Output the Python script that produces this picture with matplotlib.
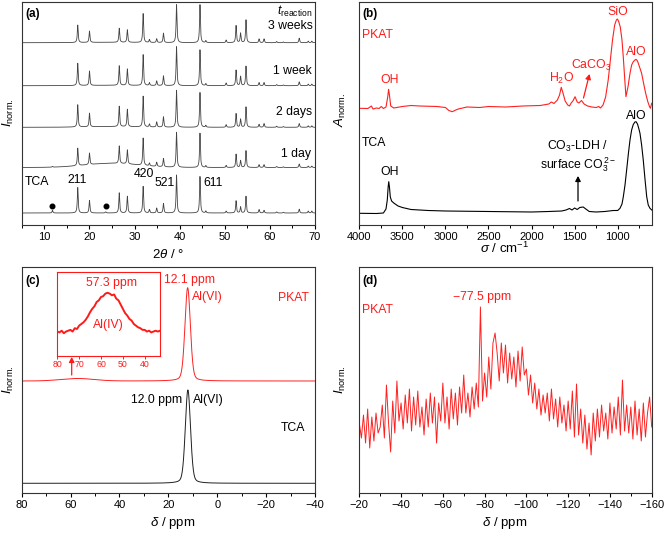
import numpy as np
import matplotlib
matplotlib.use('Agg')
import matplotlib.pyplot as plt
from matplotlib.ticker import MultipleLocator

plt.rcParams['font.family'] = ['Liberation Sans', 'DejaVu Sans']
plt.rcParams['mathtext.fontset'] = 'custom'
plt.rcParams['mathtext.rm'] = 'Liberation Sans'
plt.rcParams['mathtext.it'] = 'Liberation Sans:italic'
plt.rcParams['mathtext.bf'] = 'Liberation Sans:bold'
plt.rcParams['axes.unicode_minus'] = True

# ---------------- data (a) XRD ----------------
xrd_peaks = [11.8, 17.4, 20.0, 23.6, 26.6, 28.4, 31.9, 33.3, 34.9, 36.4, 39.3, 44.5,
             45.8, 50.3, 52.5, 53.5, 54.7, 57.6, 58.7, 61.5, 63.0, 66.5, 68.5, 69.3]
xrd_labels = ['TCA', '1 day', '2 days', '1 week', '3 weeks']
h_tca = [0.07, 0.67, 0.33, 0.03, 0.53, 0.44, 0.70, 0.09, 0.13, 0.25, 1.00, 0.96,
         0.05, 0.05, 0.32, 0.16, 0.44, 0.09, 0.07, 0.03, 0.02, 0.10, 0.05, 0.05]
h_1day = [0.02, 0.50, 0.33, 0.00, 0.50, 0.40, 0.78, 0.08, 0.12, 0.24, 1.00, 0.98,
          0.05, 0.06, 0.38, 0.20, 0.48, 0.08, 0.08, 0.03, 0.02, 0.10, 0.04, 0.04]
h_2days = [0.00, 0.60, 0.37, 0.00, 0.55, 0.47, 0.83, 0.08, 0.14, 0.28, 1.00, 0.94,
           0.05, 0.07, 0.37, 0.22, 0.55, 0.08, 0.10, 0.03, 0.02, 0.10, 0.04, 0.04]
h_1week = [0.00, 0.57, 0.37, 0.00, 0.50, 0.42, 0.79, 0.07, 0.12, 0.25, 1.00, 0.92,
           0.05, 0.07, 0.40, 0.24, 0.50, 0.08, 0.08, 0.03, 0.02, 0.10, 0.04, 0.04]
h_3weeks = [0.00, 0.46, 0.30, 0.00, 0.37, 0.33, 0.76, 0.08, 0.10, 0.25, 1.00, 1.00,
            0.05, 0.07, 0.45, 0.25, 0.60, 0.10, 0.10, 0.03, 0.02, 0.12, 0.04, 0.04]
xrd_offsets = [12.0, 57.5, 97.7, 139.3, 182.3]
xrd_scales = [38, 35, 37, 39, 38]
hump_heights = [0.0, 0.12, 0.02, 0.01, 0.01]   # amorphous hump around 25 deg
dots_2theta = [11.8, 23.6]
dots_level = 19

# ---------------- data (b) FTIR ----------------
tca_sigma = [4000, 3800, 3720, 3690, 3675, 3665, 3658, 3650, 3640, 3625, 3600, 3550, 3500,
             3400, 3200, 3000, 2500, 2000, 1800, 1650, 1600, 1560, 1530, 1500, 1470, 1440,
             1400, 1370, 1330, 1250, 1150, 1100, 1050, 1000, 973, 950, 935, 915, 896, 875,
             857, 838, 819, 800, 787, 770, 755, 741, 722, 703, 683, 663, 645, 625, 605]
tca_abs = [11.7, 11.5, 12, 16, 25, 38, 43.3, 38, 28, 24, 22, 19, 17.5,
           15.5, 14.5, 14, 13.5, 13, 13.5, 14, 15, 16.5, 15, 17, 15.5, 17.5,
           18, 16, 13.5, 13, 13.5, 14, 14.5, 14.5, 16.7, 21, 28, 40, 55, 72,
           85, 95, 100.5, 103, 103.3, 101, 96.5, 91.7, 80, 65, 46, 28.3, 20, 16.7, 15]
pkat_sigma = [4000, 3900, 3860, 3840, 3800, 3770, 3745, 3720, 3690, 3670, 3660, 3650, 3635,
              3600, 3500, 3400, 3300, 3100, 3000, 2960, 2920, 2880, 2850, 2800, 2750, 2600,
              2500, 2300, 2100, 1900, 1800, 1770, 1740, 1700, 1675, 1655, 1635, 1610, 1580,
              1560, 1540, 1520, 1495, 1470, 1450, 1420, 1390, 1350, 1300, 1250, 1220, 1200,
              1170, 1140, 1110, 1085, 1060, 1035, 1015, 1004, 990, 970, 950, 935, 918, 904,
              880, 857, 838, 819, 800, 787, 770, 741, 722, 695, 675, 650, 630, 620, 605]
pkat_abs = [116.7, 116.5, 119, 116, 117, 116.5, 118.5, 116.5, 118, 128, 135.7, 130, 119,
            117, 118.5, 119.5, 119, 118.5, 117.5, 114.5, 113.3, 115, 116, 117, 118, 117.5,
            118.5, 118, 119, 119.5, 121, 123, 121.5, 125, 130, 137.7, 132, 124, 120,
            119, 122, 124, 128.3, 123, 122, 124.5, 121, 119, 118, 117.5, 118.5, 117,
            120, 128, 145, 165, 185, 200, 205, 206, 204, 198, 185, 168, 146, 128.3,
            138.3, 151.7, 160, 163.3, 165, 165.7, 164, 156.7, 151.7, 140, 131.7, 123.3, 118.3, 116.7, 121.7]

# ---------------- data (c) 27Al NMR ----------------
nmr_al_centers = [12.1, 12.0]          # PKAT, TCA
nmr_al_heights = [93.3, 93.3]
nmr_al_baselines = [112.0, 9.7]
nmr_al_fwhm = [2.6, 2.5]
pkat_aliv_center = 57.3
pkat_aliv_height = 2.5
inset_ppm_start, inset_ppm_end = 80, 33
inset_int = [0.29, 0.28, 0.30, 0.27, 0.29, 0.30, 0.31, 0.29, 0.33, 0.32, 0.36,
             0.38, 0.40, 0.43, 0.47, 0.52, 0.56, 0.59, 0.64, 0.66, 0.70,
             0.71, 0.74, 0.75, 0.74, 0.72, 0.73, 0.68, 0.66, 0.61, 0.56,
             0.51, 0.48, 0.44, 0.42, 0.38, 0.36, 0.34, 0.33, 0.31, 0.31,
             0.29, 0.30, 0.28, 0.29, 0.30, 0.29, 0.30]

# ---------------- data (d) 29Si NMR ----------------
si_ppm_start, si_ppm_end = -20, -160
si_int = [70, 55, 78, 50, 84, 45, 76, 52, 80, 60,
          66, 88, 55, 108, 70, 41, 92, 60, 112, 72,
          90, 64, 98, 70, 104, 62, 96, 68, 102, 66,
          86, 58, 94, 66, 100, 70, 96, 50, 90, 72,
          110, 70, 96, 64, 104, 74, 100, 68, 106, 80,
          118, 80, 100, 76, 106, 84, 110, 86, 186, 92,
          120, 96, 136, 104, 150, 160, 140, 112, 150, 120,
          148, 110, 140, 114, 136, 106, 142, 112, 146, 118,
          124, 98, 118, 90, 110, 84, 104, 78, 98, 80,
          100, 72, 104, 74, 94, 66, 96, 70, 88, 62,
          92, 64, 102, 56, 109, 58, 84, 50, 78, 44,
          70, 38, 80, 52, 84, 56, 88, 62, 80, 54,
          90, 60, 86, 64, 96, 58, 113, 62, 88, 60,
          86, 54, 92, 58, 84, 52, 90, 56, 80, 96,
          66]

# ---------------- figure ----------------
W, H = 665, 533
fig = plt.figure(figsize=(W / 100, H / 100), dpi=100)


def fpos(x, y):
    return x / W, 1 - y / H


def ftext(x, y, s, ha='center', va='center', **kw):
    fx, fy = fpos(x, y)
    fig.text(fx, fy, s, ha=ha, va=va, **kw)


def farrow(x0, y0, x1, y1, color):
    fig.add_artist(matplotlib.patches.FancyArrowPatch(
        fpos(x0, y0), fpos(x1, y1), transform=fig.transFigure,
        arrowstyle='-|>,head_length=3,head_width=1.6', color=color, lw=0.9,
        mutation_scale=1, shrinkA=0, shrinkB=0))


def add_ax(l, t, r, b):
    return fig.add_axes([l / W, 1 - b / H, (r - l) / W, (b - t) / H])


def style(ax):
    for s in ax.spines.values():
        s.set_linewidth(0.8)
        s.set_color('#333333')
    ax.tick_params(axis='x', which='major', direction='out', length=3, width=0.8,
                   labelsize=8, pad=2, top=False)
    ax.tick_params(axis='x', which='minor', direction='out', length=1.8, width=0.7, top=False)
    ax.set_yticks([])


FS = 8.8
LW_XY = 9.5

# ---- (a)
axa = add_ax(21.8, 1.5, 315, 225)
tt = np.arange(5, 70.001, 0.02)
hsets = [h_tca, h_1day, h_2days, h_1week, h_3weeks]
for hs, off, sc, hump in zip(hsets, xrd_offsets, xrd_scales, hump_heights):
    y = np.zeros_like(tt)
    for c, h in zip(xrd_peaks, hs):
        y += h / (1 + ((tt - c) / 0.11) ** 2)
    y += hump * np.exp(-0.5 * ((tt - 25) / 6.0) ** 2)
    axa.plot(tt, off + sc * y, color='#444444', lw=0.6)
axa.plot(dots_2theta, [dots_level] * len(dots_2theta), 'o', color='black', ms=3.3, ls='none')
axa.set_xlim(5, 70)
axa.set_ylim(0, 223.5)
axa.xaxis.set_major_locator(MultipleLocator(10))
axa.xaxis.set_minor_locator(MultipleLocator(5))
style(axa)
axa.set_xticks([10, 20, 30, 40, 50, 60, 70])

ftext(25, 14, '(a)', ha='left', fontsize=8.5, fontweight='bold')
ftext(312, 11, r'$t_{\rm reaction}$', ha='right', fontsize=FS)
ftext(313, 26, '3 weeks', ha='right', fontsize=FS)
ftext(312, 71, '1 week', ha='right', fontsize=FS)
ftext(312, 112, '2 days', ha='right', fontsize=FS)
ftext(311, 154, '1 day', ha='right', fontsize=FS)
ftext(25, 182, 'TCA', ha='left', fontsize=FS)
ftext(77, 180, '211', fontsize=FS)
ftext(143.5, 174, '420', fontsize=FS)
ftext(164.5, 183, '521', fontsize=FS)
ftext(213, 183, '611', fontsize=FS)
ftext(168, 255, r'$2\theta$ / °', fontsize=LW_XY)
ftext(8, 113, r'$I_{\rm norm.}$', rotation=90, fontsize=LW_XY)

# ---- (b)
axb = add_ax(359.3, 1.5, 651.7, 225)
axb.plot(tca_sigma, tca_abs, color='black', lw=0.8)
axb.plot(pkat_sigma, pkat_abs, color='#ff2020', lw=0.8)
axb.set_xlim(4000, 605)
axb.set_ylim(0, 223.5)
axb.xaxis.set_major_locator(MultipleLocator(500))
axb.xaxis.set_minor_locator(MultipleLocator(250))
style(axb)

RED = '#ff1a1a'
ftext(362, 14, '(b)', ha='left', fontsize=8.5, fontweight='bold')
ftext(362, 35, 'PKAT', ha='left', fontsize=FS, color=RED)
ftext(390, 80, 'OH', fontsize=FS, color=RED)
ftext(562, 78, r'H$_2$O', fontsize=FS, color=RED)
ftext(591, 65, r'CaCO$_3$', fontsize=FS, color=RED)
ftext(618, 12, 'SiO', fontsize=FS, color=RED)
ftext(636, 52, 'AlO', fontsize=FS, color=RED)
farrow(583.5, 98, 589.5, 74, RED)
ftext(362, 143, 'TCA', ha='left', fontsize=FS)
ftext(390, 172, 'OH', fontsize=FS)
ftext(578, 146, r'CO$_3$-LDH /', fontsize=FS)
ftext(578, 165, r'surface CO$_3^{\,2-}$', fontsize=FS)
farrow(578, 201, 578, 176, 'black')
ftext(636, 116, 'AlO', fontsize=FS)
ftext(505, 248, r'$\sigma$ / cm$^{-1}$', fontsize=LW_XY)
ftext(340, 110, r'$A_{\rm norm.}$', rotation=90, fontsize=LW_XY)

# ---- (c)
axc = add_ax(21.7, 267, 315, 493)
dd = np.arange(80, -40.001, -0.05)
for c, h, b, w, col in zip(nmr_al_centers, nmr_al_heights, nmr_al_baselines, nmr_al_fwhm,
                           ['#ff2020', '#202020']):
    lor = 1 / (1 + ((dd - c) / (w / 2)) ** 2)
    gau = np.exp(-4 * np.log(2) * ((dd - c) / w) ** 2)
    y = b + h * (0.25 * lor + 0.75 * gau)
    if col == '#ff2020':
        y = y + pkat_aliv_height * np.exp(-0.5 * ((dd - pkat_aliv_center) / 6.8) ** 2)
    axc.plot(dd, y, color=col, lw=0.7)
axc.set_xlim(80, -40)
axc.set_ylim(0, 226)
axc.xaxis.set_major_locator(MultipleLocator(20))
axc.xaxis.set_minor_locator(MultipleLocator(10))
style(axc)

ftext(25, 281, '(c)', ha='left', fontsize=8.5, fontweight='bold')
ftext(190, 280, '12.1 ppm', fontsize=FS, color=RED)
ftext(207, 297, 'Al(VI)', fontsize=FS, color=RED)
ftext(293, 298, 'PKAT', fontsize=FS, color=RED)
farrow(71.7, 375, 71.7, 357, RED)
ftext(157, 400, '12.0 ppm', fontsize=FS)
ftext(208, 400, 'Al(VI)', fontsize=FS)
ftext(293, 428, 'TCA', fontsize=FS)
ftext(173, 523, r'$\delta$ / ppm', fontsize=LW_XY)
ftext(8, 380, r'$I_{\rm norm.}$', rotation=90, fontsize=LW_XY)

axi = add_ax(57.3, 271.7, 160, 356)
xi = np.linspace(inset_ppm_start, inset_ppm_end, len(inset_int))
axi.plot(xi, inset_int, color='#ff1a1a', lw=1.4)
axi.set_xlim(80, 33)
axi.set_ylim(0, 1)
axi.set_xticks([80, 70, 60, 50, 40])
axi.set_yticks([])
for s in axi.spines.values():
    s.set_color(RED)
    s.set_linewidth(0.8)
axi.tick_params(axis='x', colors=RED, labelsize=6.3, length=2, pad=1, width=0.7)
ftext(112, 283, '57.3 ppm', fontsize=FS, color=RED)
ftext(108, 325, 'Al(IV)', fontsize=FS, color=RED)

# ---- (d)
axd = add_ax(359.3, 267, 651.7, 493)
xs = np.linspace(si_ppm_start, si_ppm_end, len(si_int))
axd.plot(xs, si_int, color='#ff2020', lw=0.7)
axd.set_xlim(-20, -160)
axd.set_ylim(0, 226)
axd.xaxis.set_major_locator(MultipleLocator(20))
axd.xaxis.set_minor_locator(MultipleLocator(10))
style(axd)
ftext(362, 281, '(d)', ha='left', fontsize=8.5, fontweight='bold')
ftext(482, 297, '\u221277.5 ppm', fontsize=FS, color=RED)
ftext(362, 310, 'PKAT', ha='left', fontsize=FS, color=RED)
ftext(505, 523, r'$\delta$ / ppm', fontsize=LW_XY)
ftext(340, 380, r'$I_{\rm norm.}$', rotation=90, fontsize=LW_XY)

fig.savefig('out.png', dpi=100)
